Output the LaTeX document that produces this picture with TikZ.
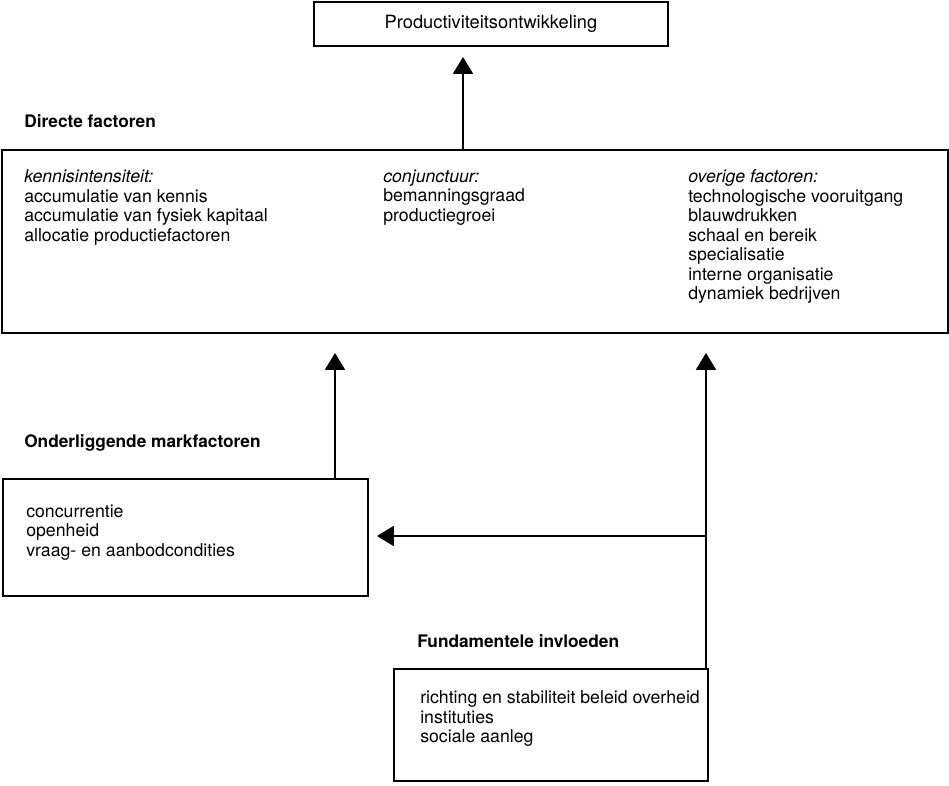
\documentclass[tikz,border=0pt]{standalone}
\usepackage{fontspec}
\setmainfont{TeX Gyre Heros}
\usetikzlibrary{arrows.meta,positioning}

\tikzset{
  box/.style={draw, line width=1.2pt, inner sep=0pt, anchor=south west},
  txt/.style={anchor=north west, inner sep=0pt, align=left, font=\fontsize{12.6}{13.87}\selectfont},
  kop/.style={txt, font=\fontsize{12.3}{13.87}\selectfont\bfseries},
  pijl/.style={line width=1.2pt, -{Triangle[length=0.42cm,width=0.5cm]}},
}

\begin{document}
\begin{tikzpicture}
        \useasboundingbox (0,0) rectangle (23.725,19.625);

        % Bovenste blok
        \node [box, anchor=center, minimum width=8.85cm, minimum height=1.1cm,
               font=\fontsize{13}{13.87}\selectfont] (prod) at (12.275,19.025) {Productiviteitsontwikkeling};
        \coordinate (tipprod) at (11.575,18.2);

        % Directe factoren
        \node [kop] (kopdir) at (0.6,16.76) {Directe factoren};
        \node [box, minimum width=23.65cm, minimum height=4.575cm] (direct) at (0.025,11.275) {};
        \node [txt] (kennis) at (0.6,15.385) {\textit{kennisintensiteit:}\\accumulatie van kennis\\accumulatie van fysiek kapitaal\\allocatie productiefactoren};
        \node [txt] (conj) at (9.575,15.385) {\textit{conjunctuur:}\\bemanningsgraad\\productiegroei};
        \node [txt] (overig) at (17.2,15.385) {\textit{overige factoren:}\\technologische vooruitgang\\blauwdrukken\\schaal en bereik\\specialisatie\\interne organisatie\\dynamiek bedrijven};
        \draw [pijl] (direct.north -| tipprod) -- (tipprod);

        % Onderliggende markfactoren
        \node [kop] (kopmarkt) at (0.6,8.76) {Onderliggende markfactoren};
        \node [box, minimum width=9.125cm, minimum height=2.925cm] (markt) at (0.05,4.7) {};
        \node [txt] (marktlijst) at (0.65,7.01) {concurrentie\\openheid\\vraag- en aanbodcondities};
        \coordinate (tipmarkt) at (8.375,10.8);
        \draw [pijl] (markt.north -| tipmarkt) -- (tipmarkt);

        % Fundamentele invloeden
        \node [kop] (kopfund) at (10.425,3.76) {Fundamentele invloeden};
        \node [box, minimum width=7.85cm, minimum height=2.8cm] (fund) at (9.825,0.075) {};
        \node [txt] (fundlijst) at (10.5,2.36) {richting en stabiliteit beleid overheid\\instituties\\sociale aanleg};
        \coordinate (tipfund) at (17.65,10.8);
        \coordinate (knik) at (17.65,6.225);
        \coordinate (tipzij) at (9.425,6.225);
        \draw [pijl] (fund.north -| tipfund) -- (tipfund);
        \draw [pijl] (knik) -- (tipzij);
    \end{tikzpicture}
\end{document}
